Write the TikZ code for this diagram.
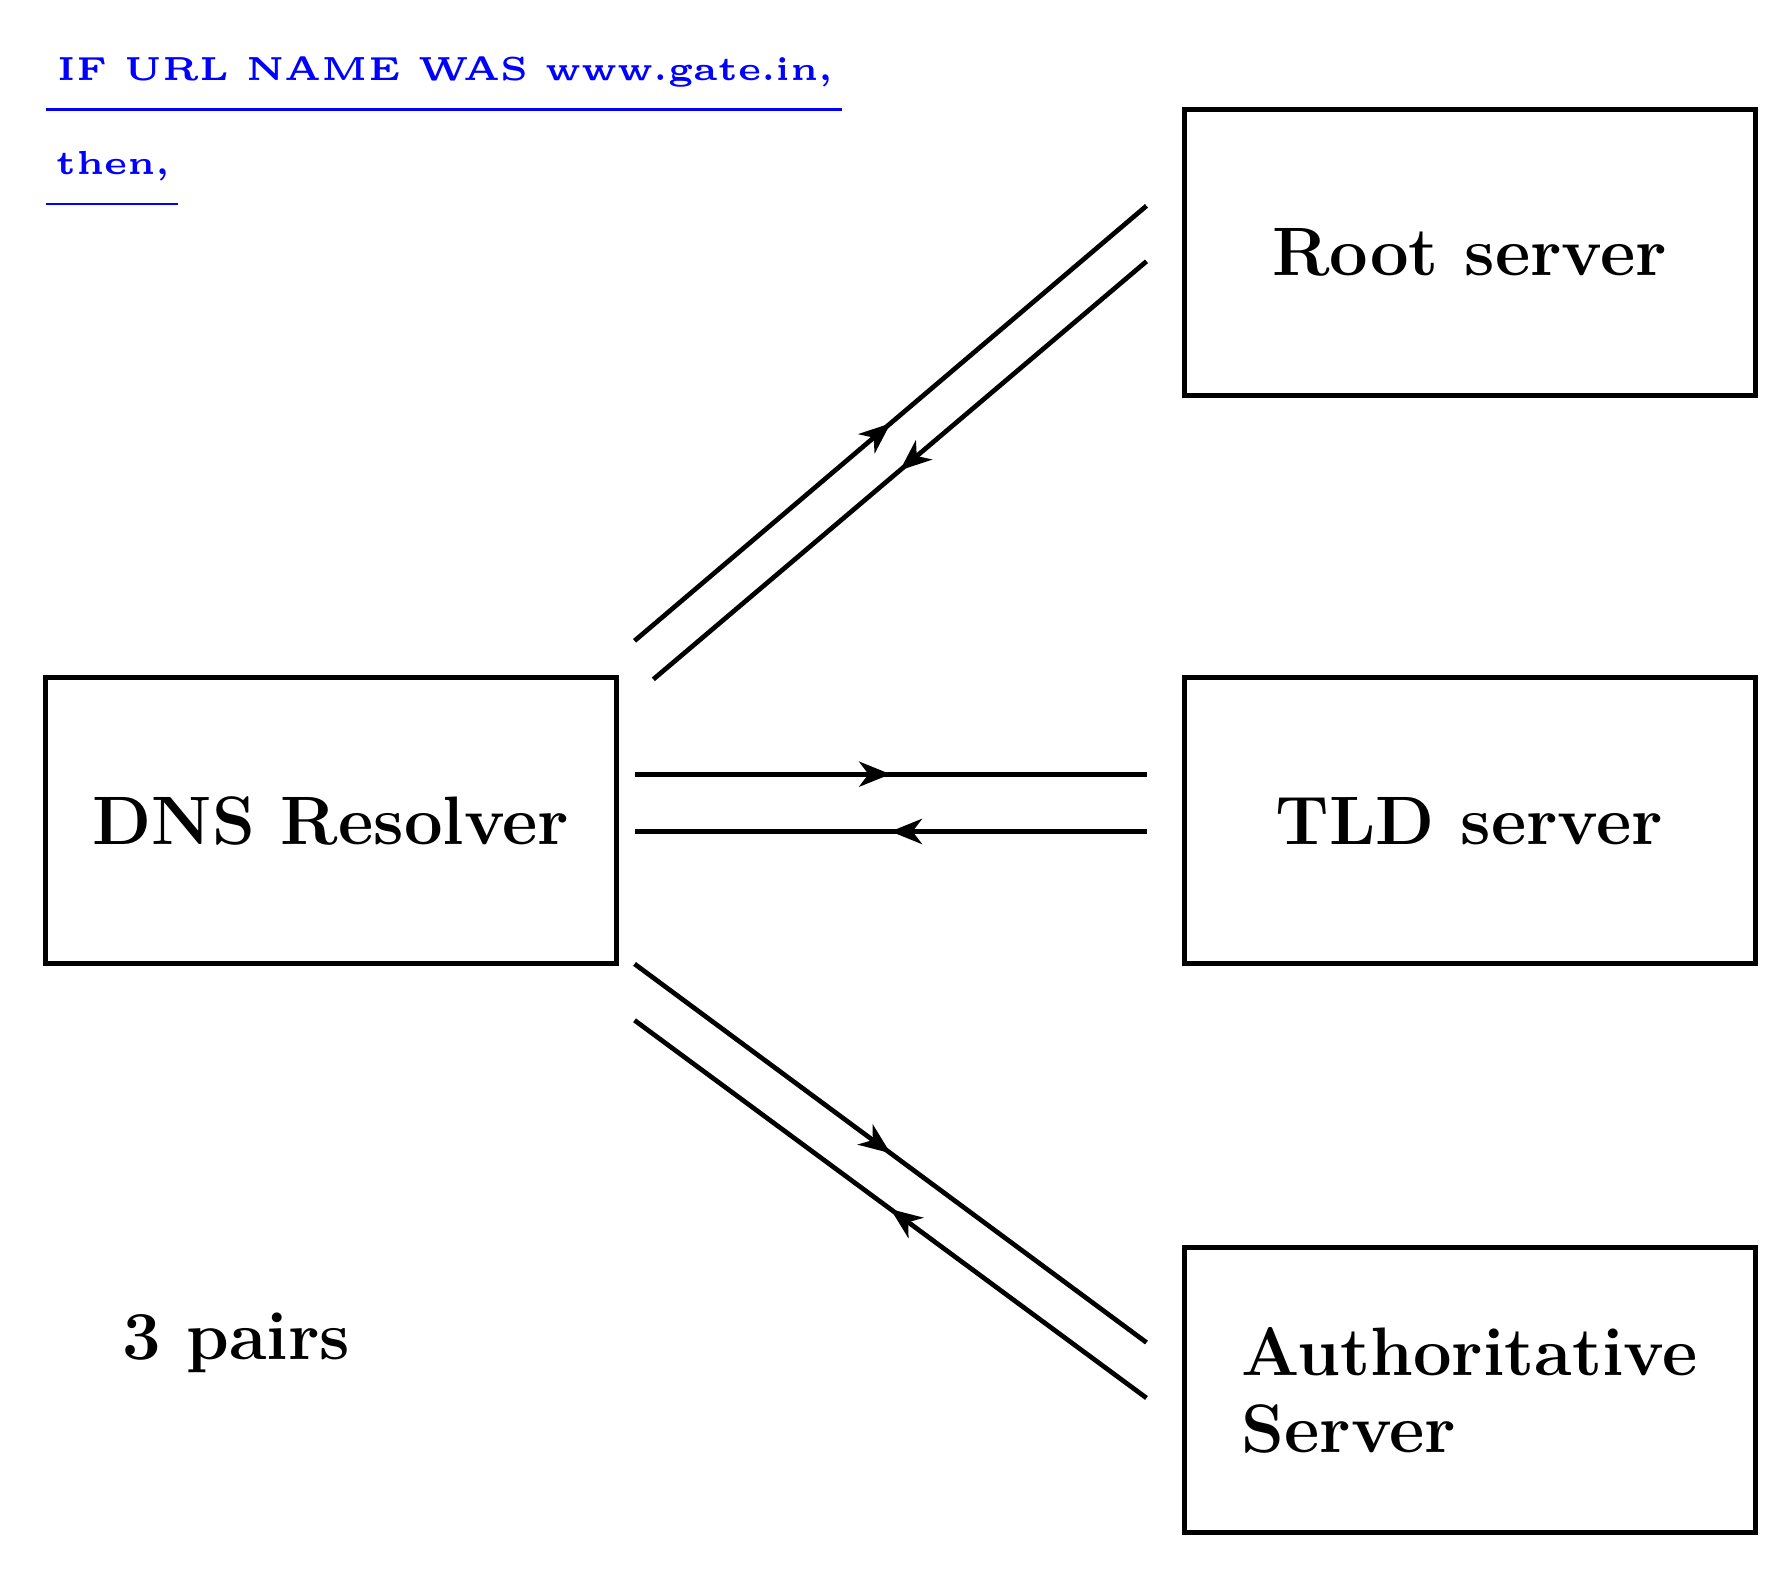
\documentclass[tikz,border=0pt]{standalone}
\usepackage{xcolor}
\usepackage{amsmath}
\usepackage{tikz}
\usetikzlibrary{calc,arrows.meta,decorations.markings}

\newcommand{\boxfont}{\fontsize{21.8}{24.5}\selectfont\bfseries}

\begin{document}
\begin{tikzpicture}[
    server/.style={draw=black, line width=1.6pt, minimum width=6.38cm, minimum height=3.19cm, font=\boxfont, align=left},
    msg/.style={black, line width=1.5pt, postaction={decorate},
        decoration={markings, mark=at position 0.5 with {\arrow{Stealth[length=10pt,width=8pt,inset=3pt]}}}},
    note/.style={text=blue, scale=2.12, inner sep=0pt, anchor=base west, font=\tiny\bfseries},
    uline/.style={blue, line width=0.9pt}
]
                \useasboundingbox (0,0) rectangle (20,-17.525);
                % servers
                \node [server] (dns) at (3.70,-9.17) {DNS Resolver};
                \node [server] (root) at (16.42,-2.82) {Root server};
                \node [server] (tld) at (16.42,-9.17) {TLD server};
                \node [server] (auth) at (16.42,-15.53) {Authoritative\\Server};
                % note at top left
                \node [note] (url) at (0.63,-0.90) {IF URL NAME WAS www.gate.in,};
                \node [note] (then) at (0.62,-1.95) {then,};
                \coordinate (u1a) at (0.51,-1.22);
                \coordinate (u1b) at (9.41,-1.22);
                \coordinate (u2a) at (0.51,-2.28);
                \coordinate (u2b) at (1.99,-2.28);
                \draw [uline] (u1a) -- (u1b);
                \draw [uline] (u2a) -- (u2b);
                \node [font=\boxfont] (pairs) at (2.64,-15.00) {3 pairs};
                % line ends
                \coordinate (rq1) at (7.09,-7.16);
                \coordinate (rq2) at (12.81,-2.30);
                \coordinate (rr1) at (12.81,-2.92);
                \coordinate (rr2) at (7.30,-7.59);
                \coordinate (tq1) at (7.09,-8.65);
                \coordinate (tq2) at (12.81,-8.65);
                \coordinate (tr1) at (12.81,-9.29);
                \coordinate (tr2) at (7.09,-9.29);
                \coordinate (aq1) at (7.09,-10.77);
                \coordinate (aq2) at (12.81,-15.00);
                \coordinate (ar1) at (12.81,-15.62);
                \coordinate (ar2) at (7.09,-11.40);
                % queries and replies
                \draw [msg] (rq1) -- (rq2);
                \draw [msg] (rr1) -- (rr2);
                \draw [msg] (tq1) -- (tq2);
                \draw [msg] (tr1) -- (tr2);
                \draw [msg] (aq1) -- (aq2);
                \draw [msg] (ar1) -- (ar2);
\end{tikzpicture}
\end{document}
